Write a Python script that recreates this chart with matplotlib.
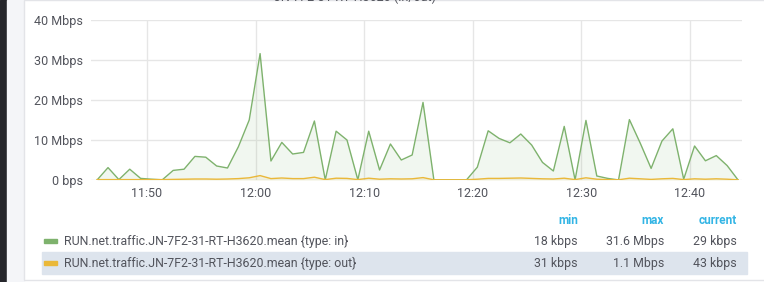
from datetime import datetime, timedelta

import matplotlib
matplotlib.use('Agg')
import matplotlib.pyplot as plt
import matplotlib.dates as mdates
from matplotlib.patches import Rectangle
from matplotlib.ticker import FixedLocator

plt.rcParams['font.family'] = ['Roboto', 'DejaVu Sans']

# traffic in Mbps, one sample per minute
traffic_in = [0.02, 3.1, 0.1, 2.7, 0.4, 0.2, 0.05, 2.4, 2.7, 5.9,
              5.7, 3.5, 3.0, 8.3, 15.0, 31.6, 4.75, 9.4, 6.5, 6.9,
              14.75, 0.02, 12.2, 10.0, 0.05, 12.2, 2.5, 9.0, 5.0, 6.25,
              19.4, 0.02, 0.02, 0.02, 0.02, 3.2, 12.3, 10.4, 9.3, 11.5,
              8.75, 4.4, 2.25, 13.4, 0.02, 14.9, 1.0, 0.4, 0.02, 15.1,
              9.2, 2.9, 9.75, 12.8, 0.2, 8.5, 4.8, 6.1, 3.6, 0.029]
traffic_out = [0.1, 0.1, 0.1, 0.1, 0.1, 0.1, 0.1, 0.15, 0.2, 0.25,
               0.25, 0.2, 0.25, 0.35, 0.55, 1.1, 0.35, 0.5, 0.35, 0.35,
               0.7, 0.1, 0.45, 0.4, 0.1, 0.45, 0.2, 0.3, 0.25, 0.3,
               0.6, 0.05, 0.05, 0.05, 0.05, 0.2, 0.4, 0.4, 0.45, 0.5,
               0.4, 0.3, 0.25, 0.45, 0.1, 0.55, 0.2, 0.1, 0.05, 0.45,
               0.3, 0.15, 0.3, 0.4, 0.1, 0.3, 0.2, 0.3, 0.2, 0.043]
start = datetime(2024, 1, 1, 11, 45, 25)
times = [start + timedelta(minutes=i) for i in range(len(traffic_in))]

y_ticks = [0, 10, 20, 30, 40]
y_labels = ['0 bps', '10 Mbps', '20 Mbps', '30 Mbps', '40 Mbps']

series_names = ['RUN.net.traffic.JN-7F2-31-RT-H3620.mean {type: in}',
                'RUN.net.traffic.JN-7F2-31-RT-H3620.mean {type: out}']
stat_headers = ['min', 'max', 'current']
stat_values = [['18 kbps', '31.6 Mbps', '29 kbps'],
               ['31 kbps', '1.1 Mbps', '43 kbps']]

green = '#7eb26d'
yellow = '#eab839'
text_col = '#52545c'

W, H = 764, 282
fig = plt.figure(figsize=(W / 100, H / 100), dpi=100)
fig.patch.set_facecolor('white')

# page background around the panel
fig.patches.append(Rectangle((0, 0), 7 / W, 1, transform=fig.transFigure,
                             color='#25262b', zorder=-2))
fig.patches.append(Rectangle((7 / W, 0), 17 / W, 1, transform=fig.transFigure,
                             color='#f4f5f8', zorder=-2))
fig.patches.append(Rectangle((24 / W, 1 - 280 / H), 1, 280 / H, transform=fig.transFigure,
                             facecolor='white', edgecolor='#e3e4e8', lw=1, zorder=-1))

ax = fig.add_axes([91 / W, 1 - 180 / H, 651 / W, 160 / H])
ax.set_zorder(1)
ax.set_facecolor('none')

ax.plot(times, traffic_in, color=green, lw=1.0, zorder=3)
ax.fill_between(times, traffic_in, color=green, alpha=0.1, lw=0, zorder=2)
ax.plot(times, traffic_out, color=yellow, lw=1.0, zorder=4)
ax.fill_between(times, traffic_out, color=yellow, alpha=0.1, lw=0, zorder=2)

ax.set_xlim(datetime(2024, 1, 1, 11, 44, 51), datetime(2024, 1, 1, 12, 44, 47))
ax.set_ylim(0, 40)
ax.xaxis.set_major_locator(mdates.MinuteLocator(byminute=[0, 10, 20, 30, 40, 50]))
ax.xaxis.set_major_formatter(mdates.DateFormatter('%H:%M'))
ax.yaxis.set_major_locator(FixedLocator(y_ticks))
ax.set_yticklabels(y_labels)
ax.grid(True, color='#e6e6e6', lw=1)
ax.set_axisbelow(True)
for s in ax.spines.values():
    s.set_visible(False)
ax.tick_params(length=0, labelsize=9, colors=text_col, pad=6)
ax.tick_params(axis='x', pad=5)

# panel title, cut off by the top edge as in the screenshot
fig.text(0.465, 1 - 1 / H, 'JN-7F2-31-RT-H3620 (in/out)', ha='center', va='baseline',
         fontsize=9, color=text_col)

# legend table
header_y = 1 - 220 / H
row_y = [1 - 241 / H, 1 - 263 / H]
col_x = [578 / W, 664 / W, 737 / W]
for x, h in zip(col_x, stat_headers):
    fig.text(x, header_y, h, ha='right', va='center', fontsize=8.5,
             color='#33b5e5', fontweight='bold')

fig.patches.append(Rectangle((42 / W, 1 - 274 / H), 705 / W, 22 / H,
                             transform=fig.transFigure, color='#dde4ed', zorder=1))
for y, name, col, vals in zip(row_y, series_names, [green, yellow], stat_values):
    fig.patches.append(Rectangle((44 / W, y - 1.5 / H), 13 / W, 4 / H,
                                 transform=fig.transFigure, color=col, zorder=2))
    fig.text(64 / W, y, name, ha='left', va='center', fontsize=8.9, color=text_col)
    for x, v in zip(col_x, vals):
        fig.text(x, y, v, ha='right', va='center', fontsize=8.9, color=text_col)

fig.savefig('out.png', dpi=100)
